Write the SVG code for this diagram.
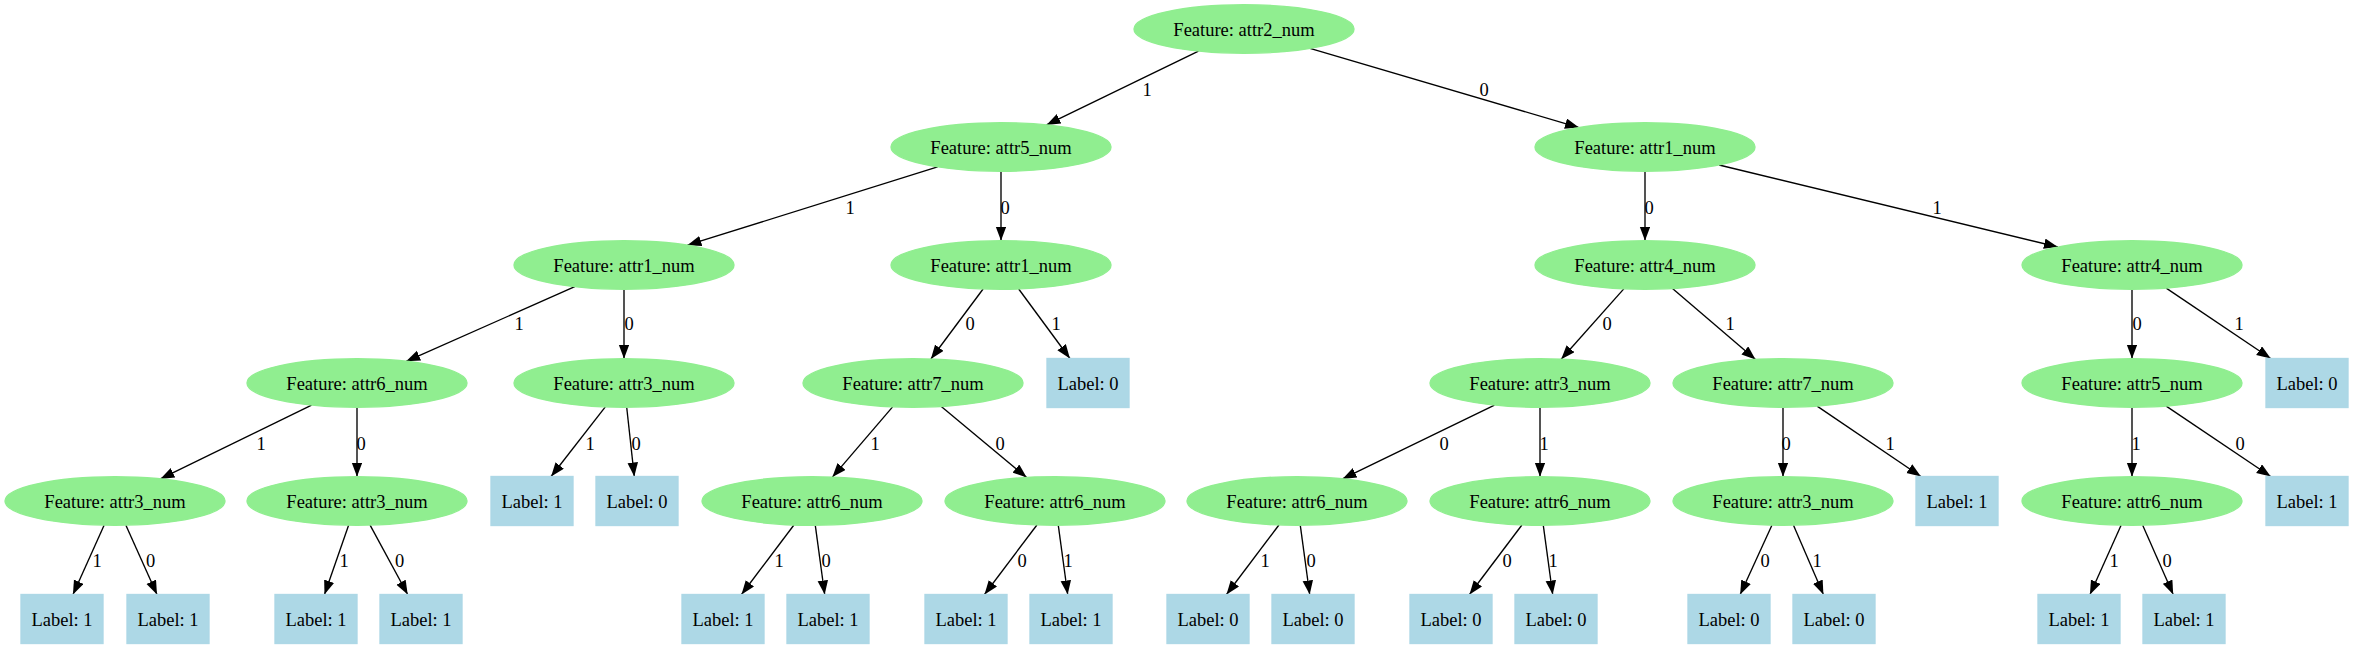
<svg xmlns="http://www.w3.org/2000/svg" width="2353" height="649" viewBox="0 0 2353 649">
<style>
.bg{fill:#ffffff}
.feat ellipse{fill:#90ee90;stroke:#90ee90;stroke-width:1.35}
.leaf rect{fill:#add8e6;stroke:#add8e6;stroke-width:1.35}
.node text{font-family:"Liberation Serif","Times New Roman",serif;font-size:18.5px;fill:#000;text-anchor:middle}
.edges path{stroke:#000;stroke-width:1.35;fill:none;marker-end:url(#arrow)}
.elabels text{font-family:"Liberation Serif","Times New Roman",serif;font-size:18.5px;fill:#000;text-anchor:middle}
</style>
<defs>
<marker id="arrow" markerWidth="15" markerHeight="11" refX="14" refY="5.25" orient="auto" markerUnits="userSpaceOnUse">
<path d="M0,0 L14,5.25 L0,10.5 z" fill="#000"/>
</marker>
</defs>
<rect class="bg" x="0" y="0" width="2353" height="649"/>
<g id="edges" class="edges">
<path d="M1198.5,51.1 L1046.5,124.9"/>
<path d="M1310,48.4 L1579,127.6"/>
<path d="M937.6,166.9 L687.4,245.2"/>
<path d="M1001,171.3 L1001,240.7"/>
<path d="M1645,171.3 L1645,240.7"/>
<path d="M1719.1,165 L2057.9,247"/>
<path d="M574.8,286.7 L406.2,361.3"/>
<path d="M624,289.3 L624,358.7"/>
<path d="M983.1,289 L930.9,359"/>
<path d="M1018.7,289 L1069.9,358.5"/>
<path d="M1623.8,288.9 L1561.2,359.2"/>
<path d="M1672.5,288.5 L1755.5,359.5"/>
<path d="M2132,289.3 L2132,358.7"/>
<path d="M2166.2,288.1 L2270.7,358.5"/>
<path d="M311.6,405.1 L160.4,478.9"/>
<path d="M357,407.3 L357,476.7"/>
<path d="M605.3,406.9 L551.1,476.5"/>
<path d="M626.7,407.3 L634.3,476.5"/>
<path d="M892.6,406.9 L832.4,477.1"/>
<path d="M941.3,406.5 L1026.7,477.5"/>
<path d="M1494.5,405.1 L1342.5,478.9"/>
<path d="M1540,407.3 L1540,476.7"/>
<path d="M1783,407.3 L1783,476.7"/>
<path d="M1817.1,406.1 L1920.9,476.5"/>
<path d="M2132,407.3 L2132,476.7"/>
<path d="M2166.2,406.1 L2270.7,476.5"/>
<path d="M104.1,525.2 L73,594.5"/>
<path d="M125.9,525.2 L157,594.5"/>
<path d="M348.6,525.2 L324.5,594.5"/>
<path d="M370.1,525.1 L407.7,594.5"/>
<path d="M793.9,525 L741.5,594.5"/>
<path d="M815.3,525.3 L824.7,594.5"/>
<path d="M1036.9,525 L984.5,594.5"/>
<path d="M1058.3,525.3 L1067.7,594.5"/>
<path d="M1278.9,525 L1226.5,594.5"/>
<path d="M1300.3,525.3 L1309.7,594.5"/>
<path d="M1521.9,525 L1469.5,594.5"/>
<path d="M1543.3,525.3 L1552.7,594.5"/>
<path d="M1771.9,525.2 L1740.2,594.5"/>
<path d="M1793.5,525.2 L1823.4,594.5"/>
<path d="M2121.1,525.2 L2090,594.5"/>
<path d="M2142.7,525.2 L2173.2,594.5"/>
</g>
<g id="edge-labels" class="elabels">
<text x="1147" y="95.6">1</text>
<text x="1484" y="95.6">0</text>
<text x="850" y="213.5">1</text>
<text x="1005" y="213.5">0</text>
<text x="1649" y="213.5">0</text>
<text x="1937" y="213.5">1</text>
<text x="519" y="330">1</text>
<text x="629" y="330">0</text>
<text x="970" y="330">0</text>
<text x="1056" y="330">1</text>
<text x="1607" y="330">0</text>
<text x="1730" y="330">1</text>
<text x="2137" y="330">0</text>
<text x="2239" y="330">1</text>
<text x="261" y="449.5">1</text>
<text x="361" y="449.5">0</text>
<text x="590" y="449.5">1</text>
<text x="636" y="449.5">0</text>
<text x="875" y="449.5">1</text>
<text x="1000" y="449.5">0</text>
<text x="1444" y="449.5">0</text>
<text x="1544" y="449.5">1</text>
<text x="1786" y="449.5">0</text>
<text x="1890" y="449.5">1</text>
<text x="2136" y="449.5">1</text>
<text x="2240" y="449.5">0</text>
<text x="97" y="567">1</text>
<text x="150.5" y="567">0</text>
<text x="344" y="567">1</text>
<text x="399.5" y="567">0</text>
<text x="779" y="567">1</text>
<text x="826" y="567">0</text>
<text x="1022" y="567">0</text>
<text x="1068" y="567">1</text>
<text x="1265" y="567">1</text>
<text x="1311" y="567">0</text>
<text x="1507" y="567">0</text>
<text x="1553" y="567">1</text>
<text x="1765" y="567">0</text>
<text x="1817" y="567">1</text>
<text x="2114" y="567">1</text>
<text x="2167" y="567">0</text>
</g>
<g id="n0" class="node feat"><ellipse cx="1244" cy="29" rx="110" ry="24.3"/><text x="1244" y="35.5">Feature: attr2_num</text></g>
<g id="n1" class="node feat"><ellipse cx="1001" cy="147" rx="110" ry="24.3"/><text x="1001" y="153.5">Feature: attr5_num</text></g>
<g id="n2" class="node feat"><ellipse cx="1645" cy="147" rx="110" ry="24.3"/><text x="1645" y="153.5">Feature: attr1_num</text></g>
<g id="n3" class="node feat"><ellipse cx="624" cy="265" rx="110" ry="24.3"/><text x="624" y="271.5">Feature: attr1_num</text></g>
<g id="n4" class="node feat"><ellipse cx="1001" cy="265" rx="110" ry="24.3"/><text x="1001" y="271.5">Feature: attr1_num</text></g>
<g id="n5" class="node feat"><ellipse cx="1645" cy="265" rx="110" ry="24.3"/><text x="1645" y="271.5">Feature: attr4_num</text></g>
<g id="n6" class="node feat"><ellipse cx="2132" cy="265" rx="110" ry="24.3"/><text x="2132" y="271.5">Feature: attr4_num</text></g>
<g id="n7" class="node feat"><ellipse cx="357" cy="383" rx="110" ry="24.3"/><text x="357" y="389.5">Feature: attr6_num</text></g>
<g id="n8" class="node feat"><ellipse cx="624" cy="383" rx="110" ry="24.3"/><text x="624" y="389.5">Feature: attr3_num</text></g>
<g id="n9" class="node feat"><ellipse cx="913" cy="383" rx="110" ry="24.3"/><text x="913" y="389.5">Feature: attr7_num</text></g>
<g id="n10" class="node leaf"><rect x="1047" y="358.5" width="82" height="49"/><text x="1088" y="389.5">Label: 0</text></g>
<g id="n11" class="node feat"><ellipse cx="1540" cy="383" rx="110" ry="24.3"/><text x="1540" y="389.5">Feature: attr3_num</text></g>
<g id="n12" class="node feat"><ellipse cx="1783" cy="383" rx="110" ry="24.3"/><text x="1783" y="389.5">Feature: attr7_num</text></g>
<g id="n13" class="node feat"><ellipse cx="2132" cy="383" rx="110" ry="24.3"/><text x="2132" y="389.5">Feature: attr5_num</text></g>
<g id="n14" class="node leaf"><rect x="2266" y="358.5" width="82" height="49"/><text x="2307" y="389.5">Label: 0</text></g>
<g id="n15" class="node feat"><ellipse cx="115" cy="501" rx="110" ry="24.3"/><text x="115" y="507.5">Feature: attr3_num</text></g>
<g id="n16" class="node feat"><ellipse cx="357" cy="501" rx="110" ry="24.3"/><text x="357" y="507.5">Feature: attr3_num</text></g>
<g id="n17" class="node leaf"><rect x="491" y="476.5" width="82" height="49"/><text x="532" y="507.5">Label: 1</text></g>
<g id="n18" class="node leaf"><rect x="596" y="476.5" width="82" height="49"/><text x="637" y="507.5">Label: 0</text></g>
<g id="n19" class="node feat"><ellipse cx="812" cy="501" rx="110" ry="24.3"/><text x="812" y="507.5">Feature: attr6_num</text></g>
<g id="n20" class="node feat"><ellipse cx="1055" cy="501" rx="110" ry="24.3"/><text x="1055" y="507.5">Feature: attr6_num</text></g>
<g id="n21" class="node feat"><ellipse cx="1297" cy="501" rx="110" ry="24.3"/><text x="1297" y="507.5">Feature: attr6_num</text></g>
<g id="n22" class="node feat"><ellipse cx="1540" cy="501" rx="110" ry="24.3"/><text x="1540" y="507.5">Feature: attr6_num</text></g>
<g id="n23" class="node feat"><ellipse cx="1783" cy="501" rx="110" ry="24.3"/><text x="1783" y="507.5">Feature: attr3_num</text></g>
<g id="n24" class="node leaf"><rect x="1916" y="476.5" width="82" height="49"/><text x="1957" y="507.5">Label: 1</text></g>
<g id="n25" class="node feat"><ellipse cx="2132" cy="501" rx="110" ry="24.3"/><text x="2132" y="507.5">Feature: attr6_num</text></g>
<g id="n26" class="node leaf"><rect x="2266" y="476.5" width="82" height="49"/><text x="2307" y="507.5">Label: 1</text></g>
<g id="n27" class="node leaf"><rect x="21" y="594.5" width="82" height="49"/><text x="62" y="625.5">Label: 1</text></g>
<g id="n28" class="node leaf"><rect x="127" y="594.5" width="82" height="49"/><text x="168" y="625.5">Label: 1</text></g>
<g id="n29" class="node leaf"><rect x="275" y="594.5" width="82" height="49"/><text x="316" y="625.5">Label: 1</text></g>
<g id="n30" class="node leaf"><rect x="380" y="594.5" width="82" height="49"/><text x="421" y="625.5">Label: 1</text></g>
<g id="n31" class="node leaf"><rect x="682" y="594.5" width="82" height="49"/><text x="723" y="625.5">Label: 1</text></g>
<g id="n32" class="node leaf"><rect x="787" y="594.5" width="82" height="49"/><text x="828" y="625.5">Label: 1</text></g>
<g id="n33" class="node leaf"><rect x="925" y="594.5" width="82" height="49"/><text x="966" y="625.5">Label: 1</text></g>
<g id="n34" class="node leaf"><rect x="1030" y="594.5" width="82" height="49"/><text x="1071" y="625.5">Label: 1</text></g>
<g id="n35" class="node leaf"><rect x="1167" y="594.5" width="82" height="49"/><text x="1208" y="625.5">Label: 0</text></g>
<g id="n36" class="node leaf"><rect x="1272" y="594.5" width="82" height="49"/><text x="1313" y="625.5">Label: 0</text></g>
<g id="n37" class="node leaf"><rect x="1410" y="594.5" width="82" height="49"/><text x="1451" y="625.5">Label: 0</text></g>
<g id="n38" class="node leaf"><rect x="1515" y="594.5" width="82" height="49"/><text x="1556" y="625.5">Label: 0</text></g>
<g id="n39" class="node leaf"><rect x="1688" y="594.5" width="82" height="49"/><text x="1729" y="625.5">Label: 0</text></g>
<g id="n40" class="node leaf"><rect x="1793" y="594.5" width="82" height="49"/><text x="1834" y="625.5">Label: 0</text></g>
<g id="n41" class="node leaf"><rect x="2038" y="594.5" width="82" height="49"/><text x="2079" y="625.5">Label: 1</text></g>
<g id="n42" class="node leaf"><rect x="2143" y="594.5" width="82" height="49"/><text x="2184" y="625.5">Label: 1</text></g>
</svg>
